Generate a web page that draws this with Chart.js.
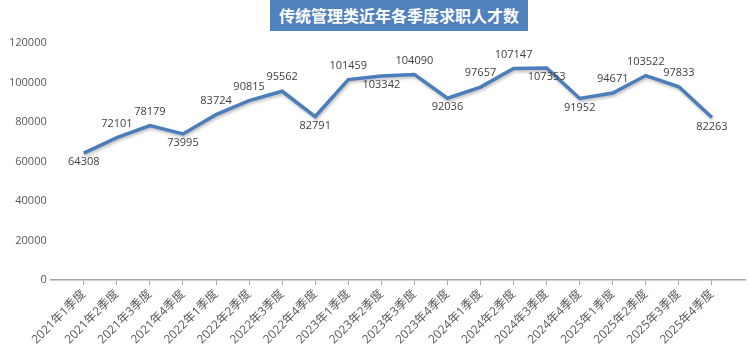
<!DOCTYPE html>
<html lang="zh">
<head>
  <meta charset="UTF-8" />
  <title>传统管理类近年各季度求职人才数</title>
  <script src="https://cdn.jsdelivr.net/npm/chart.js"></script>
  <style>
    html, body {
      margin: 0;
      padding: 0;
      background: #ffffff;
    }
    .wrap {
      position: relative;
      width: 750px;
      height: 353px;
    }
    .title {
      position: absolute;
      left: 270px;
      top: 0;
      width: 258px;
      height: 31px;
      line-height: 30px;
      background: #4f81bd;
      color: #ffffff;
      font-family: "Noto Sans CJK SC", sans-serif;
      font-weight: bold;
      font-size: 16px;
      text-align: center;
    }
  </style>
</head>
<body>
  <div class="wrap">
    <canvas id="chart" width="750" height="353"></canvas>
    <div class="title">传统管理类近年各季度求职人才数</div>
  </div>

  <script>
    const categories = [
      '2021年1季度', '2021年2季度', '2021年3季度', '2021年4季度',
      '2022年1季度', '2022年2季度', '2022年3季度', '2022年4季度',
      '2023年1季度', '2023年2季度', '2023年3季度', '2023年4季度',
      '2024年1季度', '2024年2季度', '2024年3季度', '2024年4季度',
      '2025年1季度', '2025年2季度', '2025年3季度', '2025年4季度'
    ];
    const seekers = [
      64308, 72101, 78179, 73995,
      83724, 90815, 95562, 82791,
      101459, 103342, 104090, 92036,
      97657, 107147, 107353, 91952,
      94671, 103522, 97833, 82263
    ];
    // which side of the point each value label sits on
    const labelSide = [
      'below', 'above', 'above', 'below',
      'above', 'above', 'above', 'below',
      'above', 'below', 'above', 'below',
      'above', 'above', 'below', 'below',
      'above', 'above', 'above', 'below'
    ];
    const yMin = 0;
    const yMax = 120000;
    const yStep = 20000;

    const fontFamily = '"Open Sans", "Noto Sans CJK SC", sans-serif';

    const valueLabels = {
      id: 'valueLabels',
      afterDatasetsDraw(chart) {
        const ctx = chart.ctx;
        const meta = chart.getDatasetMeta(0);
        ctx.save();
        ctx.font = '11px ' + fontFamily;
        ctx.fillStyle = '#404040';
        ctx.textAlign = 'center';
        ctx.textBaseline = 'middle';
        meta.data.forEach((pt, i) => {
          const y = labelSide[i] === 'above' ? pt.y - 14 : pt.y + 9;
          ctx.fillText(String(seekers[i]), pt.x, y);
        });
        ctx.restore();
      }
    };

    const lineShadow = {
      id: 'lineShadow',
      beforeDatasetDraw(chart) {
        const ctx = chart.ctx;
        ctx.save();
        ctx.shadowColor = 'rgba(0,0,0,0.25)';
        ctx.shadowBlur = 3;
        ctx.shadowOffsetX = 1;
        ctx.shadowOffsetY = 2;
      },
      afterDatasetDraw(chart) {
        chart.ctx.restore();
      }
    };

    new Chart(document.getElementById('chart'), {
      type: 'line',
      data: {
        datasets: [{
          data: seekers.map((v, i) => ({ x: i, y: v })),
          borderColor: '#4a7dba',
          borderWidth: 3.5,
          pointRadius: 0,
          tension: 0,
          fill: false
        }]
      },
      options: {
        responsive: false,
        animation: false,
        layout: {
          padding: { top: 43, left: 5, right: 5, bottom: 4 }
        },
        plugins: {
          legend: { display: false },
          tooltip: { enabled: false }
        },
        scales: {
          x: {
            type: 'linear',
            min: -1,
            max: categories.length,
            afterBuildTicks(scale) {
              scale.ticks = categories.map((c, i) => ({ value: i }));
            },
            ticks: {
              autoSkip: false,
              minRotation: 45,
              maxRotation: 45,
              padding: 2,
              color: '#595959',
              font: { size: 12, family: fontFamily },
              callback: (v) => categories[v] || ''
            },
            grid: {
              display: true,
              drawOnChartArea: false,
              drawTicks: true,
              tickLength: 5,
              color: '#a6a6a6'
            },
            border: { display: true, color: '#a6a6a6', width: 1.5 }
          },
          y: {
            min: yMin,
            max: yMax,
            ticks: {
              stepSize: yStep,
              padding: 4,
              color: '#595959',
              font: { size: 11, family: fontFamily },
              callback: (v) => String(v)
            },
            grid: { display: false, drawTicks: false },
            border: { display: false }
          }
        }
      },
      plugins: [lineShadow, valueLabels]
    });
  </script>
</body>
</html>
